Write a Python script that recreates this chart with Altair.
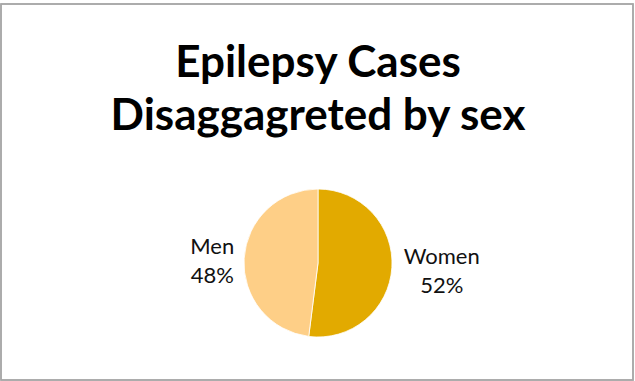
import altair as alt
import pandas as pd

categories = ["Women", "Men"]
shares = [52, 48]
colors = ["#E2AA00", "#FECF87"]
title_lines = ["Epilepsy Cases", "Disaggagreted by sex"]

df = pd.DataFrame({"sex": categories, "share": shares, "ord": [0, 1]})
df["label"] = df["sex"] + "\n" + df["share"].astype(str) + "%"

base = alt.Chart(df)
cx, cy = 318, 263

pie = base.mark_arc(radius=74, stroke="white", strokeWidth=0.8).encode(
    theta=alt.Theta("share:Q", stack=True),
    order=alt.Order("ord:Q"),
    color=alt.Color("sex:N", scale=alt.Scale(domain=categories, range=colors), legend=None),
    x=alt.value(cx), y=alt.value(cy),
)

def lab(name, r, dy):
    return base.transform_stack(
        stack="share", groupby=[], as_=["s0", "s1"], sort=[alt.SortField("ord")]
    ).transform_calculate(
        mid="(datum.s0 + datum.s1) / 2"
    ).transform_filter(alt.datum.sex == name).mark_text(
        radius=r, dy=dy, font="Lato", fontSize=22, lineBreak="\n", lineHeight=29,
        align="center", baseline="middle", color="#111111",
    ).encode(
        theta=alt.Theta("mid:Q", scale=alt.Scale(domain=[0, 100]), stack=None),
        text="label:N",
        x=alt.value(cx), y=alt.value(cy),
    )

title_df = pd.DataFrame({"t": title_lines, "i": [0, 1]})
title = alt.Chart(title_df).mark_text(
    font="Lato", fontWeight="bold", fontSize=44, align="center", baseline="alphabetic", color="black"
).encode(
    text="t:N",
    x=alt.value(318),
    y=alt.Y("i:Q", scale=alt.Scale(domain=[0, 1], range=[77, 130]), axis=None),
)

border = alt.Chart(df).mark_rect(fill=None, stroke="#A6A6A6", strokeWidth=1.5).encode(
    x=alt.value(1), x2=alt.value(633), y=alt.value(4), y2=alt.value(380)
)

chart = alt.layer(border, pie, lab("Men", 106, -9), lab("Women", 124, -14), title).resolve_scale(
    theta="independent", y="independent"
).properties(
    width=635, height=381, autosize="none", padding=0, background="white"
).configure_view(stroke=None)

chart.save("out.html", embed_options={"renderer": "svg", "actions": False})
